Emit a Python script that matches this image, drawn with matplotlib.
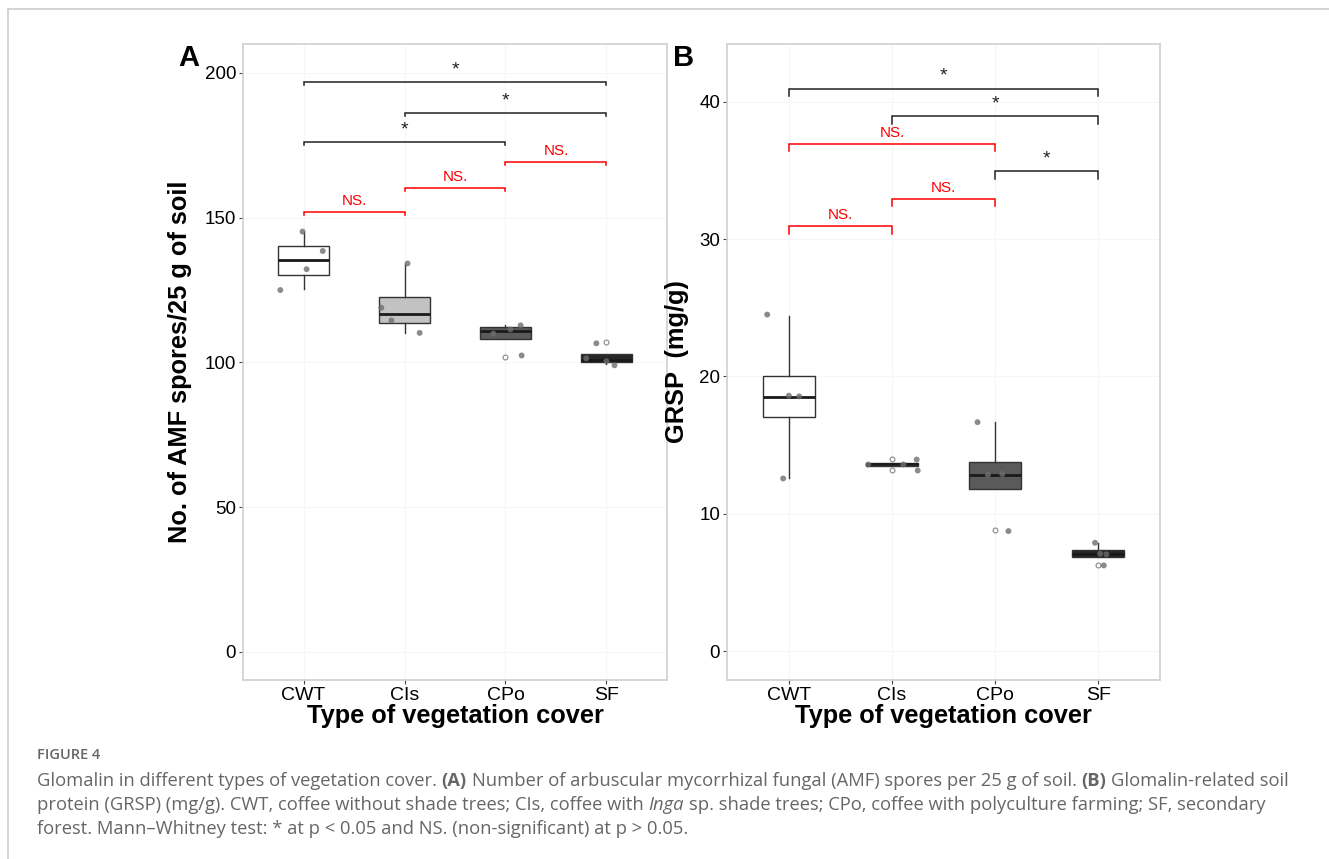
import matplotlib
matplotlib.use("Agg")
import matplotlib.pyplot as plt
from matplotlib.lines import Line2D
import numpy as np

plt.rcParams["font.family"] = ["Liberation Sans", "DejaVu Sans"]

groups = ["CWT", "CIs", "CPo", "SF"]

# panel A - AMF spores per 25 g of soil (box stats)
a_q1 = [130.3, 113.5, 108.1, 100.0]
a_med = [135.4, 116.9, 110.9, 100.9]
a_q3 = [140.1, 122.7, 112.1, 102.8]
a_lo = [125.2, 110.3, 108.1, 99.5]
a_hi = [145.2, 133.9, 112.8, 102.8]
a_fliers = [[], [], [102.0], [107.1]]
a_points = [[145.2, 138.5, 132.2, 125.0],
            [134.2, 118.9, 114.5, 110.2],
            [110.0, 111.4, 112.8, 102.4],
            [101.4, 106.6, 99.0, 100.4]]
a_jitter = [[-0.01, 0.19, 0.03, -0.23],
            [0.03, -0.23, -0.13, 0.15],
            [-0.12, 0.05, 0.15, 0.16],
            [-0.20, -0.10, 0.08, 0.0]]
a_pairs = [(0, 3), (1, 3), (0, 2), (2, 3), (1, 2), (0, 1)]
a_bracket_y = [197.0, 186.2, 176.2, 169.3, 160.3, 152.1]
a_labels = ["*", "*", "*", "NS.", "NS.", "NS."]

# panel B - GRSP (mg/g)
b_q1 = [17.05, 13.50, 11.82, 6.87]
b_med = [18.53, 13.60, 12.84, 7.09]
b_q3 = [20.00, 13.70, 13.78, 7.33]
b_lo = [12.6, 13.50, 11.82, 6.87]
b_hi = [24.4, 13.70, 16.67, 7.89]
b_fliers = [[], [14.0, 13.2], [8.81], [6.24]]
b_points = [[24.5, 18.6, 18.55, 12.57],
            [13.59, 13.59, 13.95, 13.15],
            [16.67, 12.84, 12.89, 8.74],
            [7.89, 7.09, 6.24, 7.05]]
b_jitter = [[-0.21, 0.0, 0.10, -0.055],
            [-0.23, 0.11, 0.24, 0.25],
            [-0.17, -0.07, 0.07, 0.13],
            [-0.03, 0.02, 0.055, 0.08]]
b_pairs = [(0, 3), (1, 3), (0, 2), (2, 3), (1, 2), (0, 1)]
b_bracket_y = [40.96, 38.95, 36.93, 34.92, 32.93, 30.95]
b_labels = ["*", "*", "NS.", "*", "NS.", "NS."]

fills = ["#FFFFFF", "#C2C2C2", "#5A5A5A", "#262626"]


def draw_panel(ax, q1, med, q3, lo, hi, fliers, points, jitter,
               pairs, bracket_y, labels, tip, ylim, yticks, ylabel, letter):
    stats = []
    for i in range(len(groups)):
        stats.append({"q1": q1[i], "med": med[i], "q3": q3[i],
                      "whislo": lo[i], "whishi": hi[i], "fliers": fliers[i]})
    pos = np.arange(1, len(groups) + 1)
    bp = ax.bxp(stats, positions=pos, widths=0.5, patch_artist=True,
                showcaps=False, zorder=2,
                boxprops=dict(edgecolor="#333333", linewidth=1.0),
                whiskerprops=dict(color="#333333", linewidth=1.0),
                medianprops=dict(color="#1a1a1a", linewidth=2.0),
                flierprops=dict(marker="o", markersize=3.5, markerfacecolor="none",
                                markeredgecolor="#888888", markeredgewidth=0.8))
    for patch, c in zip(bp["boxes"], fills):
        patch.set_facecolor(c)
    for i in range(len(groups)):
        xs = pos[i] + np.array(jitter[i])
        ax.scatter(xs, points[i], s=18, color="#6e6e6e", alpha=0.8,
                   edgecolors="none", zorder=3)

    for (g1, g2), y, lab in zip(pairs, bracket_y, labels):
        ns = lab.startswith("NS")
        col = "#FF0000" if ns else "#222222"
        x1, x2 = pos[g1], pos[g2]
        ax.plot([x1, x1, x2, x2], [y - tip, y, y, y - tip], color=col,
                lw=1.1, zorder=4, solid_joinstyle="miter")
        off = 5 if ns else 5.5
        ax.annotate(lab, ((x1 + x2) / 2, y), xytext=(0, off),
                    textcoords="offset points", ha="center", va="baseline",
                    color=col, fontsize=11 if ns else 14)

    ax.set_xlim(0.4, 4.6)
    ax.set_ylim(*ylim)
    ax.set_yticks(yticks)
    ax.set_xticks(pos)
    ax.set_xticklabels(groups)
    ax.tick_params(axis="both", length=3, width=0.8, color="#444444",
                   labelsize=13.5, labelcolor="black", pad=2)
    ax.tick_params(axis="x", labelsize=14, pad=2)
    ax.set_xlabel("Type of vegetation cover", fontsize=18.3, fontweight="bold",
                  labelpad=0)
    ax.set_ylabel(ylabel, fontsize=18.3, fontweight="bold", labelpad=4)
    for sp in ax.spines.values():
        sp.set_color("#D0D0D0")
        sp.set_linewidth(1.2)
    ax.grid(True, color="#F6F6F6", lw=0.8, zorder=0)
    ax.set_axisbelow(True)
    ax.text(-0.2, 1.0, letter, transform=ax.transAxes, fontsize=21,
            fontweight="bold", ha="left", va="top")


fig = plt.figure(figsize=(13.29, 8.59), dpi=100)
W, H = 1329.0, 859.0
axA = fig.add_axes([243 / W, 1 - 680 / H, 424 / W, 636 / H])
axB = fig.add_axes([727 / W, 1 - 680 / H, 433 / W, 636 / H])

draw_panel(axA, a_q1, a_med, a_q3, a_lo, a_hi, a_fliers, a_points, a_jitter,
           a_pairs, a_bracket_y, a_labels, 1.2, (-9.7, 210.0),
           [0, 50, 100, 150, 200], "No. of AMF spores/25 g of soil", "A")
draw_panel(axB, b_q1, b_med, b_q3, b_lo, b_hi, b_fliers, b_points, b_jitter,
           b_pairs, b_bracket_y, b_labels, 0.55, (-2.1, 44.2),
           [0, 10, 20, 30, 40], "GRSP  (mg/g)", "B")
axA.texts[-1].set_position((-0.153, 1.0))
axB.texts[-1].set_position((-0.125, 1.0))
axA.yaxis.set_label_coords(-0.12, 0.5)
axB.yaxis.set_label_coords(-0.088, 0.5)

# page frame
fig.add_artist(Line2D([7.5 / W, 1.0], [1 - 9 / H, 1 - 9 / H], color="#CCCCCC", lw=1.2))
fig.add_artist(Line2D([7.5 / W, 7.5 / W], [0, 1 - 9 / H], color="#CCCCCC", lw=1.2))

# caption
cap_col = "#666666"
cap_font = ["Open Sans", "DejaVu Sans"]
cap_size = 13.2
fig.text(37 / W, 1 - 755 / H, "FIGURE 4", fontsize=10.5, fontweight="semibold",
         color=cap_col, family=cap_font, va="center")

renderer = fig.canvas.get_renderer()


def text_width(s, **kw):
    t = fig.text(0, 0, s, **kw)
    w = t.get_window_extent(renderer).width
    t.remove()
    return w


sp_w = (text_width("x x", fontsize=cap_size, family=cap_font)
        - text_width("xx", fontsize=cap_size, family=cap_font))


def rich_line(y, pieces):
    x = 37.0
    for s, style in pieces:
        kw = dict(fontsize=cap_size, family=cap_font, color=cap_col, va="center")
        if style == "b":
            kw["fontweight"] = "bold"
        if style == "i":
            kw["style"] = "italic"
        lead = len(s) - len(s.lstrip(" "))
        x += lead * sp_w
        core = s.strip(" ")
        t = fig.text(x / W, 1 - y / H, core, **kw)
        x += t.get_window_extent(renderer).width
        x += (len(s) - len(s.rstrip(" "))) * sp_w


rich_line(781, [("Glomalin in different types of vegetation cover. ", ""), ("(A)", "b"),
                (" Number of arbuscular mycorrhizal fungal (AMF) spores per 25 g of soil. ", ""),
                ("(B)", "b"), (" Glomalin-related soil", "")])
rich_line(805, [("protein (GRSP) (mg/g). CWT, coffee without shade trees; CIs, coffee with ", ""),
                ("Inga", "i"),
                (" sp. shade trees; CPo, coffee with polyculture farming; SF, secondary", "")])
rich_line(829, [("forest. Mann\u2013Whitney test: * at p < 0.05 and NS. (non-significant) at p > 0.05.", "")])

fig.savefig("out.png", dpi=100)
